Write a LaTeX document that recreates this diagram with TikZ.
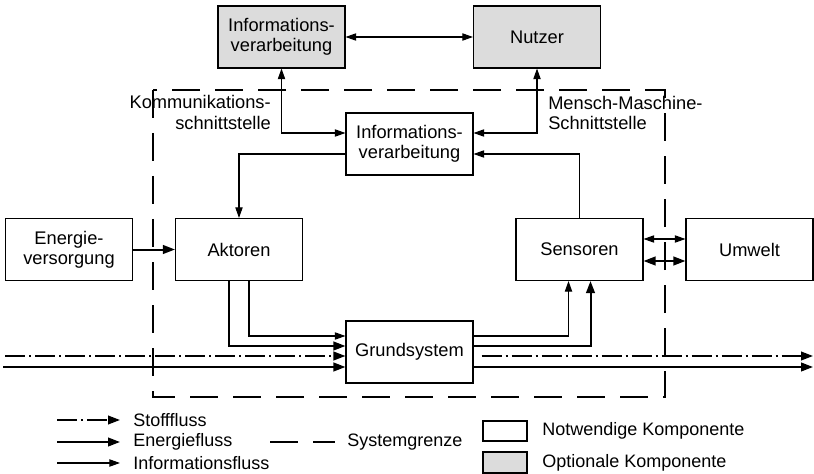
\documentclass[tikz,border=0pt]{standalone}
\usepackage{fontspec}
\setmainfont{Liberation Sans}
\usetikzlibrary{arrows.meta}
\definecolor{optgray}{RGB}{220,220,220}
\begin{document}
\begin{tikzpicture}[x=0.75pt,y=-0.75pt,
  font=\fontsize{13.7}{15.3}\selectfont,
  comp/.style={draw=black, line width=0.8pt, fill=white, inner sep=0pt,
    minimum width=95.25pt, minimum height=46.5pt, align=center},
  optcomp/.style={comp, fill=optgray},
  info/.style={line width=0.8pt, >={Triangle[length=8pt,width=5.5pt]}},
  energy/.style={line width=1.5pt, >={Triangle[length=9pt,width=6.5pt]}},
  stoff/.style={line width=1.4pt, dash pattern=on 15pt off 3pt on 1.5pt off 3pt,
    >={Triangle[length=9pt,width=6.5pt]}},
  grenze/.style={line width=1.5pt, dash pattern=on 21pt off 11.25pt},
  lbl/.style={inner sep=0pt},
  legend/.style={inner sep=0pt, anchor=west, font=\fontsize{13.5}{15}\selectfont},
]
\useasboundingbox (0,0) rectangle (814,474);

% system boundary
\draw[grenze] (153,90) rectangle (665,397);

% components
\node[optcomp] (infoopt) at (281.5,37) {Informations-\\verarbeitung};
\node[optcomp] (nutzer) at (537,37) {Nutzer};
\node[comp] (infomid) at (409.5,144) {Informations-\\verarbeitung};
\node[comp] (energie) at (69,249.5) {Energie-\\versorgung};
\node[comp] (aktoren) at (239,249.5) {Aktoren};
\node[comp] (sensoren) at (579.5,249.5) {Sensoren};
\node[comp] (umwelt) at (749.5,249.5) {Umwelt};
\node[comp] (grund) at (409.5,352) {Grundsystem};

% interface labels
\node[lbl, align=right, anchor=east] (komm) at (271,112.5) {Kommunikations-\\schnittstelle};
\node[lbl, align=left, anchor=west] (mms) at (548,113) {Mensch-Maschine-\\Schnittstelle};

% information flows
\draw[info,<->] (infoopt) -- (nutzer);
\draw[info,<->] (infoopt.south) |- ([yshift=8.25pt]infomid.west);
\draw[info,<->] (nutzer.south) |- ([yshift=8.25pt]infomid.east);
\draw[info,->] ([yshift=-7.5pt]infomid.west) -| (aktoren.north);
\draw[info,->] (sensoren.north) |- ([yshift=-7.5pt]infomid.east);
\draw[info,->] ([xshift=7.5pt]aktoren.south) |- ([yshift=12pt]grund.west);
\draw[info,->] ([yshift=12pt]grund.east) -| ([xshift=-8.25pt]sensoren.south);
\draw[info,<->] ([yshift=7.875pt]sensoren.east) -- ([yshift=7.875pt]umwelt.west);

% energy flows
\draw[energy,->] (energie) -- (aktoren);
\draw[energy,->] ([xshift=-7.5pt]aktoren.south) |- ([yshift=4.5pt]grund.west);
\draw[energy,->] ([yshift=4.5pt]grund.east) -| ([xshift=8.25pt]sensoren.south);
\draw[energy,<->] ([yshift=-8.625pt]sensoren.east) -- ([yshift=-8.625pt]umwelt.west);

% material and energy through the base system
\coordinate (sin) at (5,356);
\coordinate (ein) at (3,367);
\coordinate (sout) at (813,356);
\coordinate (eout) at (813,367);
\draw[stoff,->] (sin) -- (sin -| grund.west);
\draw[energy,->] (ein) -- (ein -| grund.west);
\draw[stoff,->] ([xshift=6pt]grund.east |- sin) -- (sout);
\draw[energy,->] (grund.east |- ein) -- (eout);

% legend
\coordinate (ls1) at (57,420);
\coordinate (le1) at (120,420);
\coordinate (ls2) at (57,442);
\coordinate (le2) at (120,442);
\coordinate (ls3) at (57,463);
\coordinate (le3) at (120,463);
\draw[stoff,->] (ls1) -- (le1);
\draw[energy,->] (ls2) -- (le2);
\draw[info,->] (ls3) -- (le3);
\node[legend] (t1) at (133,420) {Stofffluss};
\node[legend] (t2) at (133,442) {Energiefluss};
\node[legend] (t3) at (133,463) {Informationsfluss};

\coordinate (gs) at (270,442);
\coordinate (ge) at (335,442);
\draw[grenze] (gs) -- (ge);
\node[legend] (t4) at (347,442) {Systemgrenze};

\node[draw=black, line width=0.8pt, fill=white, minimum width=33pt, minimum height=15pt, inner sep=0pt] (lbw) at (505,431) {};
\node[draw=black, line width=0.8pt, fill=optgray, minimum width=33pt, minimum height=15.75pt, inner sep=0pt] (lbg) at (505,462.5) {};
\node[legend] (t5) at (542,431) {Notwendige Komponente};
\node[legend] (t6) at (542,462.5) {Optionale Komponente};
\end{tikzpicture}
\end{document}
